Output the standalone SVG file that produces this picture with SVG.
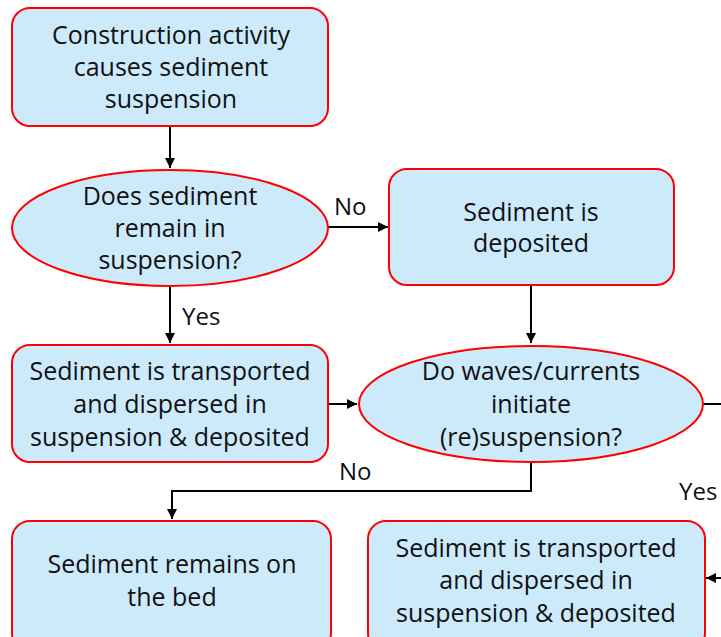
<svg xmlns="http://www.w3.org/2000/svg" width="721" height="637" viewBox="0 0 721 637">
<defs>
<style>
.n{fill:#cdeafb;stroke:#ff0000;stroke-width:2}
.t{font-family:"Open Sans","Liberation Sans",sans-serif;font-size:25px;fill:#111;text-anchor:middle}
.l{font-family:"Open Sans","Liberation Sans",sans-serif;font-size:24px;fill:#111}
.c{fill:none;stroke:#000;stroke-width:2}
</style>
<marker id="a" viewBox="0 0 10 10" refX="10" refY="5" markerWidth="5" markerHeight="5" orient="auto" markerUnits="strokeWidth">
<path d="M0,0 L10,5 L0,10 z" fill="#000"/>
</marker>
</defs>
<rect width="721" height="637" fill="#fff"/>
<g id="connectors">
<path class="c" d="M170,126 V168" marker-end="url(#a)"/>
<path class="c" d="M328,227 H388" marker-end="url(#a)"/>
<path class="c" d="M170,286 V343" marker-end="url(#a)"/>
<path class="c" d="M531,285 V343" marker-end="url(#a)"/>
<path class="c" d="M328,404 H357" marker-end="url(#a)"/>
<path class="c" d="M531,462 V491 H172 V519" marker-end="url(#a)"/>
<path class="c" d="M703,404 H722"/>
<path class="c" d="M722,578 H706" marker-end="url(#a)"/>
<text class="l" x="334" y="215">No</text>
<text class="l" x="182" y="325">Yes</text>
<text class="l" x="339" y="480">No</text>
<text class="l" x="679" y="500">Yes</text>
</g>
<g id="n1">
<rect class="n" x="12" y="8" width="316" height="118" rx="18"/>
<text class="t" x="171" y="44">Construction activity</text>
<text class="t" x="171" y="76">causes sediment</text>
<text class="t" x="171" y="108">suspension</text>
</g>
<g id="n2">
<ellipse class="n" cx="170" cy="228" rx="158" ry="58"/>
<text class="t" x="170" y="205">Does sediment</text>
<text class="t" x="170" y="237">remain in</text>
<text class="t" x="170" y="269">suspension?</text>
</g>
<g id="n3">
<rect class="n" x="389" y="169" width="285" height="116" rx="18"/>
<text class="t" x="531" y="221">Sediment is</text>
<text class="t" x="531" y="252">deposited</text>
</g>
<g id="n4">
<rect class="n" x="12" y="345" width="316" height="117" rx="18"/>
<text class="t" x="170" y="380">Sediment is transported</text>
<text class="t" x="170" y="413">and dispersed in</text>
<text class="t" x="170" y="446">suspension &amp; deposited</text>
</g>
<g id="n5">
<ellipse class="n" cx="531" cy="404" rx="172" ry="58"/>
<text class="t" x="531" y="380">Do waves/currents</text>
<text class="t" x="531" y="413">initiate</text>
<text class="t" x="531" y="446">(re)suspension?</text>
</g>
<g id="n6">
<rect class="n" x="12" y="521" width="319" height="130" rx="18"/>
<text class="t" x="172" y="573">Sediment remains on</text>
<text class="t" x="172" y="606">the bed</text>
</g>
<g id="n7">
<rect class="n" x="368" y="521" width="337" height="130" rx="18"/>
<text class="t" x="536" y="557">Sediment is transported</text>
<text class="t" x="536" y="589">and dispersed in</text>
<text class="t" x="536" y="622">suspension &amp; deposited</text>
</g>
</svg>
